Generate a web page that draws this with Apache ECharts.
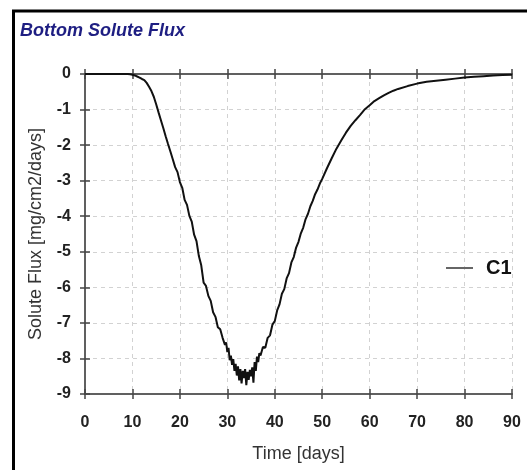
<!DOCTYPE html>
<html>
<head>
<meta charset="utf-8">
<script src="https://cdn.jsdelivr.net/npm/echarts@6/dist/echarts.min.js"></script>
<style>
    html, body { margin: 0; padding: 0; background: #fff; }
    #chart { width: 527px; height: 470px; }
</style>
</head>
<body>
<div id="chart"></div>
<script>
    var titleText = 'Bottom Solute Flux';
    var seriesName = 'C1';
    var xName = 'Time [days]';
    var yName = 'Solute Flux [mg/cm2/days]';

    // time in days
    var time = [
        0, 2, 4, 6, 8, 9, 9.5, 10, 10.5, 11, 11.5, 12, 12.5, 13, 13.5, 14, 14.5,
        15, 15.5, 16, 16.5, 17, 17.5, 18, 18.5, 19, 19.5, 20, 20.5, 21, 21.5,
        22, 22.5, 23, 23.5, 24, 24.5, 25, 25.5, 26, 26.5, 27, 27.5, 28, 28.5,
        29, 29.25, 29.5, 29.75, 30, 30.25, 30.5, 30.75, 31, 31.25, 31.5, 31.75,
        32, 32.25, 32.5, 32.75, 33, 33.25, 33.5, 33.75, 34, 34.25, 34.5, 34.75,
        35, 35.25, 35.5, 35.75, 36, 36.25, 36.5, 36.75, 37, 37.5, 38, 38.5,
        39, 39.5, 40, 40.5, 41, 41.5, 42, 42.5, 43, 43.5, 44, 44.5, 45, 45.5,
        46, 46.5, 47, 47.5, 48, 48.5, 49, 49.5, 50, 51, 52, 53, 54, 55, 56,
        57, 58, 59, 60, 61, 62, 63, 64, 65, 66, 68, 70, 72, 74, 76, 78, 80,
        82, 84, 86, 88, 90
    ];

    // bottom solute flux, C1
    var fluxC1 = [
        0, 0, 0, 0, 0, 0, -0.01, -0.02, -0.04, -0.07, -0.10, -0.14, -0.17, -0.25, -0.36, -0.48, -0.64,
        -0.85, -1.08, -1.30, -1.52, -1.75, -1.97, -2.18, -2.40, -2.62, -2.76, -3.04, -3.20, -3.54, -3.68,
        -3.99, -4.15, -4.52, -4.70, -5.12, -5.38, -5.87, -5.96, -6.24, -6.38, -6.70, -6.83, -7.12, -7.18,
        -7.42, -7.38, -7.62, -7.55, -7.82, -7.70, -8.05, -7.92, -8.18, -8.02, -8.35, -8.15,
        -8.48, -8.22, -8.62, -8.30, -8.70, -8.35, -8.55, -8.30, -8.75, -8.38, -8.60, -8.32,
        -8.50, -8.25, -8.68, -8.10, -8.35, -7.95, -8.10, -7.85, -7.92, -7.68, -7.70, -7.42,
        -7.35, -7.05, -6.95, -6.65, -6.48, -6.18, -6.05, -5.75, -5.60, -5.30, -5.15, -4.88, -4.72, -4.48,
        -4.32, -4.08, -3.93, -3.72, -3.57, -3.38, -3.25, -3.08, -2.95, -2.65, -2.37, -2.10, -1.87, -1.65, -1.46,
        -1.30, -1.15, -0.99, -0.88, -0.76, -0.68, -0.60, -0.53, -0.47, -0.42, -0.34, -0.27, -0.22, -0.19, -0.16, -0.13, -0.10,
        -0.08, -0.06, -0.04, -0.03, -0.02
    ];

    var xMin = 0, xMax = 90, xStep = 10;
    var yMin = -9, yMax = 0, yStep = 1;

    var axisColor = '#606060';
    var gridColor = '#d2d2d2';
    var textColor = '#222';

    function buildXAxis(position, inside, labels, line, grid) {
        return {
            type: 'value',
            position: position,
            min: xMin,
            max: xMax,
            interval: xStep,
            name: labels ? xName : '',
            nameLocation: 'middle',
            nameGap: 51,
            nameTextStyle: { fontFamily: 'Liberation Sans', fontSize: 18, color: '#333' },
            axisLine: { show: line, onZero: false, lineStyle: { color: axisColor, width: 2 } },
            axisTick: { show: true, inside: inside, length: 5, lineStyle: { color: '#444', width: 1.5 } },
            axisLabel: {
                show: labels, margin: 21, fontFamily: 'Liberation Sans',
                fontSize: 16, fontWeight: 'bold', color: textColor
            },
            splitLine: { show: grid, lineStyle: { color: gridColor, type: [4, 4], width: 1 } }
        };
    }

    function buildYAxis(inside, labels, grid) {
        return {
            type: 'value',
            position: 'left',
            min: yMin,
            max: yMax,
            interval: yStep,
            name: labels ? yName : '',
            nameLocation: 'middle',
            nameGap: 40,
            nameTextStyle: { fontFamily: 'Liberation Sans', fontSize: 18, color: '#333' },
            axisLine: { show: labels, onZero: false, lineStyle: { color: axisColor, width: 2 } },
            axisTick: { show: true, inside: inside, length: 5, lineStyle: { color: '#444', width: 1.5 } },
            axisLabel: {
                show: labels, margin: 14, fontFamily: 'Liberation Sans',
                fontSize: 16, fontWeight: 'bold', color: textColor
            },
            splitLine: { show: grid, lineStyle: { color: gridColor, type: [4, 4], width: 1 } }
        };
    }

    var points = [];
    for (var i = 0; i < time.length; i++) {
        points.push([time[i], fluxC1[i]]);
    }

    var chart = echarts.init(document.getElementById('chart'), null, { renderer: 'canvas' });
    chart.setOption({
        backgroundColor: '#fff',
        animation: false,
        title: {
            text: titleText,
            left: 20,
            top: 22,
            padding: 0,
            textStyle: {
                fontFamily: 'Liberation Sans', fontSize: 18, fontWeight: 'bold',
                fontStyle: 'italic', color: '#1e1e82'
            }
        },
        legend: {
            left: 446,
            top: 258,
            padding: 0,
            icon: 'rect',
            itemWidth: 27,
            itemHeight: 2,
            data: [{ name: seriesName, itemStyle: { color: '#666' } }],
            textStyle: {
                fontFamily: 'Liberation Sans', fontSize: 20, fontWeight: 'bold',
                color: '#111', padding: [0, 0, 0, 8]
            }
        },
        grid: { left: 85, right: 15, top: 74, bottom: 76, containLabel: false },
        xAxis: [
            buildXAxis('bottom', false, true, true, true),
            buildXAxis('bottom', true, false, false, false),
            buildXAxis('top', false, false, true, false),
            buildXAxis('top', true, false, false, false)
        ],
        yAxis: [
            buildYAxis(false, true, true),
            buildYAxis(true, false, false)
        ],
        series: [{
            name: seriesName,
            type: 'line',
            xAxisIndex: 0,
            yAxisIndex: 0,
            showSymbol: false,
            symbol: 'none',
            lineStyle: { color: '#111', width: 2 },
            itemStyle: { color: '#111' },
            data: points
        }],
        graphic: [{
            type: 'rect',
            shape: { x: 13.5, y: 11, width: 700, height: 700 },
            style: { fill: 'none', stroke: '#000', lineWidth: 3 },
            silent: true
        }]
    });
</script>
</body>
</html>
